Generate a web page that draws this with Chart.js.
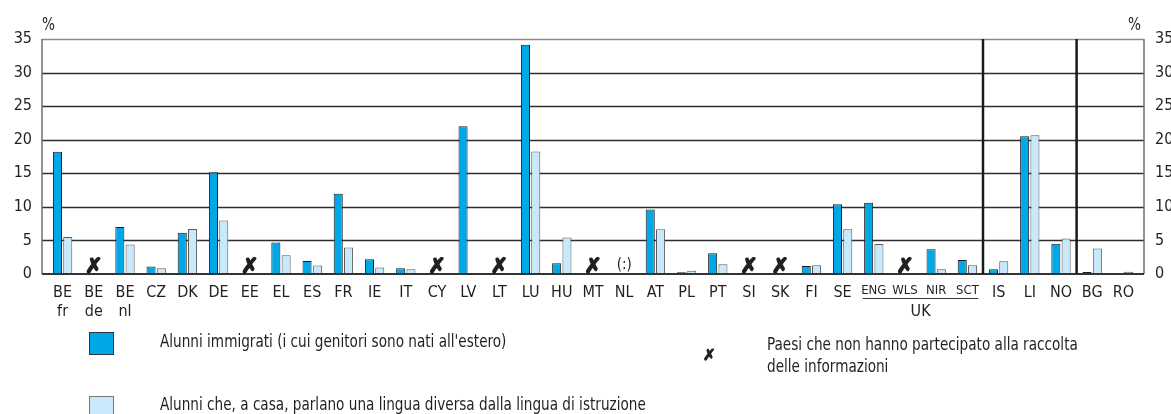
<!DOCTYPE html>
<html><head><meta charset="utf-8">
<script src="https://cdn.jsdelivr.net/npm/chart.js@4.4.1/dist/chart.umd.min.js"></script>
<style>
html,body{margin:0;padding:0;background:#fff;overflow:hidden;}
#wrap{position:relative;width:1171px;height:414px;overflow:hidden;}
canvas{position:absolute;left:0;top:0;}
.t{position:absolute;font-family:"Liberation Sans Narrow","DejaVu Sans Condensed","Roboto Condensed",sans-serif;font-size:17px;line-height:20px;color:#231f20;white-space:nowrap;transform:scaleX(0.89);transform-origin:0 0;}
.box{position:absolute;width:25px;height:23px;box-sizing:border-box;border:1px solid #333;}
.xm{position:absolute;font-family:"DejaVu Sans",sans-serif;font-weight:bold;font-size:15px;line-height:16px;color:#231f20;-webkit-text-stroke:1.2px #231f20;}
</style></head><body>
<div id="wrap">
<canvas id="c" width="1171" height="414"></canvas>
<div class="t" style="left:42px;top:14px">%</div>
<div class="t" style="left:1128px;top:14px">%</div>
<div class="box" style="left:89px;top:332px;background:#00a8e8"></div>
<div class="t" id="lg1" style="left:160px;top:331px"></div>
<div class="box" style="left:89px;top:396px;background:#c8e9fa;border-color:#777"></div>
<div class="t" id="lg2" style="left:160px;top:394px"></div>
<div class="xm" style="left:703px;top:347px">✗</div>
<div class="t" style="left:767px;top:333px;line-height:22px">Paesi che non hanno partecipato alla raccolta<br>delle informazioni</div>
</div>
<script>
const categories = [['BE','fr'],['BE','de'],['BE','nl'],'CZ','DK','DE','EE','EL','ES','FR','IE','IT','CY','LV','LT','LU','HU','MT','NL','AT','PL','PT','SI','SK','FI','SE','ENG','WLS','NIR','SCT','IS','LI','NO','BG','RO'];
const immigrati =      [18.2,null,7.0,1.1,6.15,15.15,null,4.7,1.95,11.95,2.2,0.85,null,22.0,null,34.15,1.6,null,null,9.6,0.25,3.1,null,null,1.2,10.4,10.6,null,3.7,2.1,0.7,20.5,4.5,0.3,0.1];
const linguaDiversa =  [5.5,null,4.4,0.85,6.7,7.95,null,2.8,1.25,3.95,0.95,0.7,null,0,null,18.25,5.45,null,null,6.65,0.5,1.45,null,null,1.3,6.65,4.45,null,0.7,1.3,1.9,20.65,5.3,3.8,0.35];
const nonPartecipanti = ['BE de','EE','CY','LT','MT','SI','SK','WLS'];
const nonDisponibili = ['NL'];
const ukGroup = ['ENG','WLS','NIR','SCT'];
const separatoriDopo = ['SCT','NO'];
const yTicks = [0,5,10,15,20,25,30,35];
const seriesNames = ["Alunni immigrati (i cui genitori sono nati all'estero)","Alunni che, a casa, parlano una lingua diversa dalla lingua di istruzione"];

document.getElementById('lg1').textContent = seriesNames[0];
document.getElementById('lg2').textContent = seriesNames[1];

const FAM = '"Liberation Sans Narrow","DejaVu Sans Condensed","Roboto Condensed",sans-serif';
const TXT = '#231f20';
const keyOf = c => Array.isArray(c) ? c.join(' ') : c;
const keys = categories.map(keyOf);

const deco = {
  id: 'deco',
  beforeDatasetsDraw(chart) {
    const {ctx, chartArea: a, scales: {x, y}} = chart;
    const L = a.left - 5, R = a.right + 5;
    ctx.save();
    yTicks.forEach(v => {
      if (v === 0) return;
      const py = Math.round(y.getPixelForValue(v)) + 0.5;
      ctx.strokeStyle = v === yTicks[yTicks.length - 1] ? '#8a8a8a' : '#2e2e2e';
      ctx.lineWidth = 1.3;
      ctx.beginPath(); ctx.moveTo(L, py); ctx.lineTo(R, py); ctx.stroke();
    });
    ctx.strokeStyle = '#6f6f6f'; ctx.lineWidth = 1.5;
    [L, R].forEach(px => { ctx.beginPath(); ctx.moveTo(px, a.top); ctx.lineTo(px, a.bottom); ctx.stroke(); });
    ctx.restore();
  },
  afterDatasetsDraw(chart) {
    const {ctx, chartArea: a, scales: {x, y}} = chart;
    const L = a.left - 5, R = a.right + 5;
    ctx.save();
    const y0 = y.getPixelForValue(0);
    ctx.strokeStyle = '#333'; ctx.lineWidth = 2;
    ctx.beginPath(); ctx.moveTo(L, y0); ctx.lineTo(R, y0); ctx.stroke();
    ctx.strokeStyle = '#1a1a1a'; ctx.lineWidth = 2.5;
    separatoriDopo.forEach(k => {
      const i = keys.indexOf(k);
      const px = (x.getPixelForValue(i) + x.getPixelForValue(i + 1)) / 2;
      ctx.beginPath(); ctx.moveTo(px, a.top); ctx.lineTo(px, a.bottom); ctx.stroke();
    });
    ctx.fillStyle = TXT; ctx.strokeStyle = TXT;
    ctx.textAlign = 'center';
    ctx.textBaseline = 'alphabetic';
    ctx.font = 'bold 21px "DejaVu Sans", sans-serif';
    ctx.lineWidth = 1.6; ctx.lineJoin = 'round';
    nonPartecipanti.forEach(k => {
      const i = keys.indexOf(k);
      const px = x.getPixelForValue(i);
      ctx.fillText('✗', px, y0 - 1);
      ctx.strokeText('✗', px, y0 - 1);
    });
    ctx.font = '15px ' + FAM;
    nonDisponibili.forEach(k => {
      const i = keys.indexOf(k);
      ctx.fillText('(:)', x.getPixelForValue(i), y0 - 5);
    });
    const i0 = keys.indexOf(ukGroup[0]), i1 = keys.indexOf(ukGroup[ukGroup.length - 1]);
    const ux0 = x.getPixelForValue(i0) - 11, ux1 = x.getPixelForValue(i1) + 11;
    const uy = a.bottom + 24.5;
    ctx.strokeStyle = '#333'; ctx.lineWidth = 1;
    ctx.beginPath(); ctx.moveTo(ux0, uy); ctx.lineTo(ux1, uy); ctx.stroke();
    ctx.font = '16px ' + FAM;
    ctx.textBaseline = 'middle';
    ctx.fillText('UK', (ux0 + ux1) / 2, a.bottom + 38);
    ctx.restore();
  }
};

new Chart(document.getElementById('c'), {
  type: 'bar',
  data: {
    labels: categories,
    datasets: [
      {label: seriesNames[0], data: immigrati, backgroundColor: '#00a8e8', borderColor: '#1c1c1c', borderWidth: 1, categoryPercentage: 0.66, barPercentage: 0.88},
      {label: seriesNames[1], data: linguaDiversa, backgroundColor: '#c8e9fa', borderColor: '#5a5a5a', borderWidth: 1, categoryPercentage: 0.66, barPercentage: 0.88}
    ]
  },
  options: {
    responsive: false,
    animation: false,
    devicePixelRatio: 1,
    layout: {padding: {top: 39, left: 0, right: 0, bottom: 0}},
    plugins: {legend: {display: false}, tooltip: {enabled: false}},
    scales: {
      x: {
        grid: {display: false, drawTicks: false},
        border: {display: false},
        ticks: {
          autoSkip: false, maxRotation: 0, padding: 9, color: TXT,
          font: c => ukGroup.includes(keys[c.index]) ? {family: FAM, size: 13} : {family: FAM, size: 16}
        },
        afterFit: s => { s.height = 140; }
      },
      y: {
        position: 'left', min: 0, max: 35,
        afterBuildTicks: s => { s.ticks = yTicks.map(v => ({value: v})); },
        grid: {display: false, drawTicks: false},
        border: {display: false},
        ticks: {padding: 15, color: TXT, font: {family: FAM, size: 16}},
        afterFit: s => { s.width = 47; }
      },
      y2: {
        position: 'right', min: 0, max: 35,
        afterBuildTicks: s => { s.ticks = yTicks.map(v => ({value: v})); },
        grid: {display: false, drawTicks: false},
        border: {display: false},
        ticks: {padding: 16, color: TXT, font: {family: FAM, size: 16}},
        afterFit: s => { s.width = 32; }
      }
    }
  },
  plugins: [deco]
});
</script>
</body></html>
